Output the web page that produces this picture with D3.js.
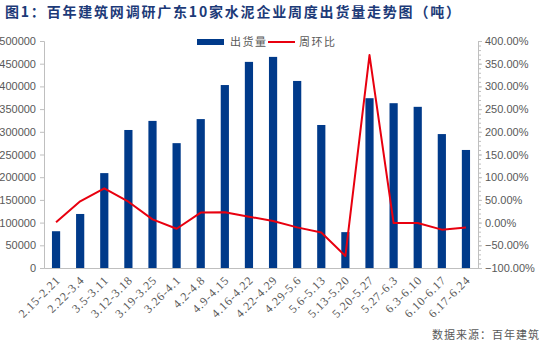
<!DOCTYPE html>
<html>
<head>
<meta charset="utf-8">
<script src="https://cdn.jsdelivr.net/npm/d3@7/dist/d3.min.js"></script>
<style>
  html, body { margin: 0; padding: 0; background: #fff; }
  svg { display: block; }
</style>
</head>
<body>
<svg id="chart" width="544" height="343"></svg>
<script>
// Weekly shipments of 10 cement producers in Guangdong
const weeks = ["2.15-2.21", "2.22-3.4", "3.5-3.11", "3.12-3.18", "3.19-3.25", "3.26-4.1",
  "4.2-4.8", "4.9-4.15", "4.16-4.22", "4.22-4.29", "4.29-5.6", "5.6-5.13",
  "5.13-5.20", "5.20-5.27", "5.27-6.3", "6.3-6.10", "6.10-6.17", "6.17-6.24"];
const shipments = [81000, 119000, 209000, 304000, 324000, 275000,
  328000, 403000, 454000, 465000, 412000, 315000,
  79000, 374000, 363000, 355000, 295000, 260000];
const wowPct = [1, 47, 75.5, 46, 7, -13.5,
  22, 23, 13, 3.5, -10.5, -22,
  -73.5, 369, -1, -1, -15.5, -11];
const leftTicks = [0, 50000, 100000, 150000, 200000, 250000, 300000, 350000, 400000, 450000, 500000];
const rightTicks = [-100, -50, 0, 50, 100, 150, 200, 250, 300, 350, 400];

const svg = d3.select("#chart");
const plot = { left: 44, right: 478, top: 41, bottom: 268 };
const gray = "#595959";
const axisColor = "#BFBFBF";
const barColor = "#003A8A";
const lineColor = "#E8000F";

const x = d3.scaleBand().domain(weeks).range([plot.left, plot.right]).padding(0);
const yL = d3.scaleLinear().domain([0, 500000]).range([plot.bottom, plot.top]);
const yR = d3.scaleLinear().domain([-100, 400]).range([plot.bottom, plot.top]);

// Title
svg.append("text")
  .attr("x", 5).attr("y", 17)
  .attr("textLength", 455).attr("lengthAdjust", "spacing")
  .style("font-family", "'Noto Sans CJK SC', sans-serif")
  .style("font-weight", "bold")
  .style("font-size", "14px")
  .style("fill", "#1C3A78")
  .text("图1：百年建筑网调研广东10家水泥企业周度出货量走势图（吨）");

// Left axis
const axL = d3.axisLeft(yL).tickValues(leftTicks).tickSize(4).tickPadding(4).tickFormat(d3.format("d"));
const gL = svg.append("g").attr("transform", `translate(${plot.left},0)`).call(axL);
gL.select(".domain").attr("stroke", axisColor);
gL.selectAll(".tick line").attr("stroke", axisColor);
gL.selectAll(".tick text").style("font-family", "'Liberation Sans', Arial, sans-serif")
  .style("font-size", "11px").attr("fill", gray);

// Right axis with minor ticks
const minor = d3.range(-100, 401, 10);
const axRMinor = d3.axisRight(yR).tickValues(minor).tickSize(3).tickFormat("");
const gRm = svg.append("g").attr("transform", `translate(${plot.right},0)`).call(axRMinor);
gRm.select(".domain").attr("stroke", axisColor);
gRm.selectAll(".tick line").attr("stroke", axisColor);
const axR = d3.axisRight(yR).tickValues(rightTicks).tickSize(4).tickPadding(3)
  .tickFormat(d => d3.format(".2f")(d) + "%");
const gR = svg.append("g").attr("transform", `translate(${plot.right},0)`).call(axR);
gR.select(".domain").attr("stroke", axisColor);
gR.selectAll(".tick line").attr("stroke", axisColor);
gR.selectAll(".tick text").style("font-family", "'Liberation Sans', Arial, sans-serif")
  .style("font-size", "11px").attr("fill", gray);

// Category axis
const axB = d3.axisBottom(x).tickSize(0).tickPadding(0);
const gB = svg.append("g").attr("transform", `translate(0,${plot.bottom})`).call(axB);
gB.select(".domain").attr("stroke", axisColor);
gB.selectAll(".tick text")
  .style("font-family", "'Liberation Serif', 'Times New Roman', serif")
  .style("font-size", "12px")
  .attr("letter-spacing", "0.8")
  .attr("fill", gray)
  .attr("text-anchor", "end")
  .attr("dy", "0")
  .attr("transform", "translate(5,13) rotate(-45)");

// Bars
const bw = x.bandwidth() * 0.34;
svg.append("g").selectAll("rect").data(weeks).join("rect")
  .attr("x", (d) => x(d) + x.bandwidth() / 2 - bw / 2)
  .attr("width", bw)
  .attr("y", (d, i) => yL(shipments[i]))
  .attr("height", (d, i) => yL(0) - yL(shipments[i]))
  .attr("fill", barColor);

// Week-over-week line
const line = d3.line()
  .x((d, i) => x(weeks[i]) + x.bandwidth() / 2)
  .y(d => yR(d));
svg.append("path").datum(wowPct)
  .attr("d", line)
  .attr("fill", "none")
  .attr("stroke", lineColor)
  .attr("stroke-width", 2)
  .attr("stroke-linejoin", "round");

// Legend
const lg = svg.append("g");
lg.append("rect").attr("x", 197).attr("y", 39).attr("width", 27).attr("height", 6).attr("fill", barColor);
lg.append("text").attr("x", 230).attr("y", 46)
  .style("font-family", "'Noto Sans CJK SC', sans-serif").style("font-size", "11px")
  .attr("fill", gray).attr("letter-spacing", "1.5").text("出货量");
lg.append("line").attr("x1", 268).attr("x2", 295).attr("y1", 42).attr("y2", 42)
  .attr("stroke", lineColor).attr("stroke-width", 2);
lg.append("text").attr("x", 299).attr("y", 46)
  .style("font-family", "'Noto Sans CJK SC', sans-serif").style("font-size", "11px")
  .attr("fill", gray).attr("letter-spacing", "1.5").text("周环比");

// Source note
svg.append("text").attr("x", 540).attr("y", 339).attr("text-anchor", "end")
  .style("font-family", "'Noto Sans CJK SC', sans-serif").style("font-size", "11px")
  .attr("fill", gray).attr("letter-spacing", "1")
  .text("数据来源：百年建筑");
</script>
</body>
</html>
